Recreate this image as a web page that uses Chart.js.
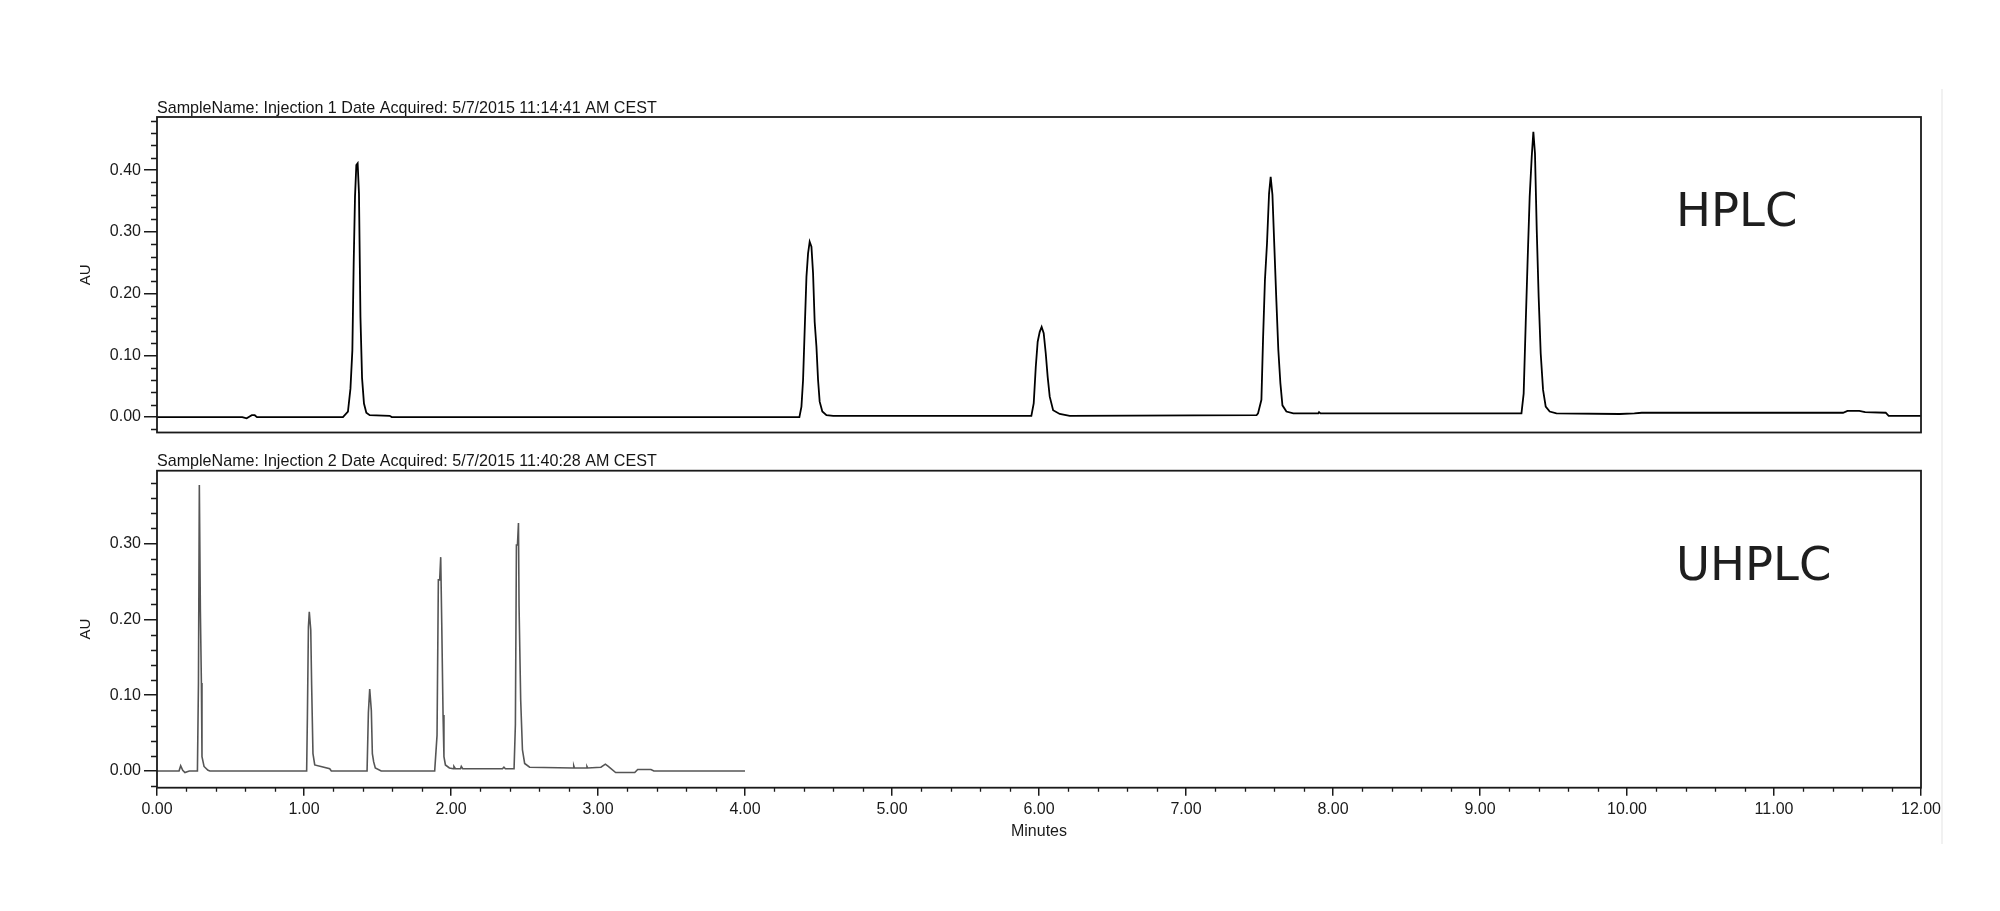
<!DOCTYPE html>
<html>
<head>
<meta charset="utf-8">
<script src="https://cdn.jsdelivr.net/npm/chart.js@4.4.1/dist/chart.umd.min.js"></script>
<style>
  html, body { margin: 0; padding: 0; background: #fff; }
  body { width: 2000px; height: 911px; position: relative; overflow: hidden; }
  canvas { position: absolute; left: 0; }
  #hplc { top: 0; }
  #uhplc { top: 450px; }
  .edge { position: absolute; left: 1941px; top: 89px; width: 2px; height: 755px; background: #f1f1f1; }
</style>
</head>
<body>
<div class="edge"></div>
<canvas id="hplc" width="2000" height="450"></canvas>
<canvas id="uhplc" width="2000" height="461"></canvas>
<script>
/* ==========================
   DATA  (minutes, AU)
========================== */
const hplcTrace = [
  [0, 0], [0.58, 0], [0.61, -0.002], [0.63, 0.001], [0.645, 0.003], [0.665, 0.003], [0.68, 0],
  [1.265, 0], [1.299, 0.009], [1.316, 0.046], [1.329, 0.108], [1.338, 0.249], [1.347, 0.357],
  [1.356, 0.408], [1.365, 0.411], [1.374, 0.362], [1.384, 0.162], [1.395, 0.063], [1.408, 0.022],
  [1.424, 0.007], [1.447, 0.003], [1.583, 0.002], [1.597, 0],
  [4.37, 0], [4.384, 0.017], [4.395, 0.06], [4.406, 0.141], [4.418, 0.227], [4.429, 0.265],
  [4.44, 0.284], [4.452, 0.276], [4.463, 0.233], [4.474, 0.154], [4.486, 0.114], [4.497, 0.06],
  [4.508, 0.025], [4.526, 0.009], [4.554, 0.003], [4.6, 0.002],
  [5.948, 0.002], [5.964, 0.022], [5.978, 0.081], [5.991, 0.122], [6.005, 0.138], [6.018, 0.146],
  [6.032, 0.136], [6.046, 0.103], [6.059, 0.065], [6.073, 0.033], [6.096, 0.011], [6.141, 0.005],
  [6.209, 0.002],
  [7.48, 0.003], [7.49, 0.006], [7.513, 0.028], [7.524, 0.125], [7.537, 0.222], [7.551, 0.281],
  [7.565, 0.362], [7.576, 0.389], [7.588, 0.36], [7.601, 0.276], [7.615, 0.187], [7.628, 0.109],
  [7.642, 0.055], [7.656, 0.019], [7.683, 0.009], [7.73, 0.006], [7.9, 0.006], [7.905, 0.008],
  [7.915, 0.006],
  [9.282, 0.006], [9.297, 0.038], [9.311, 0.152], [9.324, 0.254], [9.338, 0.357], [9.352, 0.422],
  [9.363, 0.462], [9.374, 0.427], [9.386, 0.303], [9.399, 0.195], [9.413, 0.103], [9.429, 0.044],
  [9.447, 0.017], [9.474, 0.009], [9.52, 0.006],
  [9.95, 0.005], [10.05, 0.006], [10.1, 0.007], [11.47, 0.007], [11.5, 0.01], [11.58, 0.01],
  [11.62, 0.008], [11.76, 0.007], [11.78, 0.002], [12, 0.002]
];

const uhplcTrace = [
  [0, 0], [0.15, 0], [0.161, 0.007], [0.175, 0.001], [0.19, -0.002], [0.205, -0.001], [0.22, 0],
  [0.275, 0], [0.282, 0.116], [0.288, 0.377], [0.295, 0.212], [0.302, 0.116], [0.306, 0.019],
  [0.32, 0.006], [0.347, 0.001], [0.36, 0],
  [1.018, 0], [1.023, 0.07], [1.03, 0.19], [1.036, 0.21], [1.046, 0.186], [1.052, 0.113],
  [1.061, 0.023], [1.073, 0.008], [1.175, 0.003], [1.186, 0],
  [1.429, 0], [1.438, 0.077], [1.447, 0.108], [1.458, 0.08], [1.465, 0.023], [1.474, 0.012],
  [1.485, 0.004], [1.525, 0],
  [1.889, 0], [1.905, 0.047], [1.914, 0.252], [1.923, 0.252], [1.93, 0.282], [1.937, 0.195],
  [1.946, 0.074], [1.952, 0.019], [1.962, 0.008], [1.989, 0.004], [2.015, 0.003], [2.02, 0.006],
  [2.03, 0.003], [2.065, 0.003], [2.07, 0.006], [2.08, 0.003], [2.35, 0.003], [2.36, 0.005],
  [2.37, 0.003], [2.429, 0.003],
  [2.438, 0.061], [2.445, 0.298], [2.452, 0.298], [2.459, 0.327], [2.463, 0.217], [2.474, 0.094],
  [2.486, 0.028], [2.501, 0.01], [2.535, 0.005],
  [2.83, 0.004], [2.835, 0.007], [2.84, 0.004], [2.92, 0.004], [2.925, 0.006], [2.93, 0.004],
  [3.02, 0.005], [3.05, 0.009], [3.07, 0.006], [3.12, -0.002], [3.25, -0.002], [3.27, 0.002],
  [3.36, 0.002], [3.38, 0], [4, 0]
];

const panelHeaders = [
  "SampleName: Injection 1 Date Acquired: 5/7/2015 11:14:41 AM CEST",
  "SampleName: Injection 2 Date Acquired: 5/7/2015 11:40:28 AM CEST"
];
const panelTags = ["HPLC", "UHPLC"];
const auRanges = [[-0.025, 0.486], [-0.022, 0.396]];
const minuteRange = [0, 12];

/* ==========================
   FRAME: box, minor ticks, header, tag
========================== */
const framePlugin = {
  id: "frame",
  afterDraw(chart, args, opts) {
    const { ctx, chartArea: a, scales } = chart;
    ctx.save();
    ctx.strokeStyle = "#1a1a1a";
    ctx.lineWidth = 1.8;
    ctx.strokeRect(a.left, a.top, a.right - a.left, a.bottom - a.top);

    // minor ticks every 0.02 AU
    const y = scales.y;
    ctx.lineWidth = 1.3;
    ctx.beginPath();
    for (let i = Math.ceil(y.min / 0.02); i * 0.02 <= y.max; i++) {
      if (i % 5 === 0) continue;
      const py = Math.round(y.getPixelForValue(i * 0.02)) + 0.5;
      ctx.moveTo(a.left - 6, py);
      ctx.lineTo(a.left, py);
    }
    if (opts.minorX) {
      const x = scales.x;
      for (let i = 1; i * 0.2 < x.max; i++) {
        if (i % 5 === 0) continue;
        const px = Math.round(x.getPixelForValue(i * 0.2)) + 0.5;
        ctx.moveTo(px, a.bottom);
        ctx.lineTo(px, a.bottom + 4);
      }
    }
    ctx.stroke();

    ctx.fillStyle = "#151515";
    ctx.font = '16.1px "Liberation Sans", Arial, sans-serif';
    ctx.textBaseline = "alphabetic";
    ctx.textAlign = "left";
    ctx.fillText(opts.header, a.left, a.top - 4.5);

    ctx.fillStyle = "#1e1e1e";
    ctx.font = '46.5px "DejaVu Sans", sans-serif';
    ctx.fillText(opts.tag, a.left + 1519, a.top + 109);
    ctx.restore();
  }
};

function gerarPainel(canvasId, trace, idx, opts) {
  const [yMin, yMax] = auRanges[idx];
  return new Chart(document.getElementById(canvasId), {
    type: "line",
    data: {
      datasets: [
        {
          data: trace,
          borderColor: opts.lineColor,
          borderWidth: opts.lineWidth,
          pointRadius: 0,
          tension: 0,
          fill: false
        }
      ]
    },
    options: {
      responsive: false,
      animation: false,
      events: [],
      layout: { padding: opts.padding },
      plugins: {
        legend: { display: false },
        tooltip: { enabled: false },
        frame: { header: panelHeaders[idx], tag: panelTags[idx], minorX: opts.showX }
      },
      scales: {
        x: {
          type: "linear",
          display: opts.showX,
          min: minuteRange[0],
          max: minuteRange[1],
          afterFit: s => { s.height = opts.showX ? 80 : 0; },
          ticks: {
            stepSize: 1,
            padding: 4,
            maxRotation: 0,
            color: "#1a1a1a",
            font: { family: '"Liberation Sans", Arial, sans-serif', size: 16 },
            callback: v => Number(v).toFixed(2)
          },
          grid: {
            drawOnChartArea: false,
            drawTicks: true,
            tickLength: 8,
            tickColor: "#1a1a1a",
            lineWidth: 1.5
          },
          border: { display: false },
          title: {
            display: true,
            text: "Minutes",
            color: "#1a1a1a",
            font: { family: '"Liberation Sans", Arial, sans-serif', size: 16 },
            padding: { top: 0, bottom: 26.5 }
          }
        },
        y: {
          min: yMin,
          max: yMax,
          afterFit: s => { s.width = 100; },
          ticks: {
            stepSize: 0.1,
            includeBounds: false,
            padding: 3,
            color: "#1a1a1a",
            font: { family: '"Liberation Sans", Arial, sans-serif', size: 16 },
            callback: v => Number(v).toFixed(2)
          },
          grid: {
            drawOnChartArea: false,
            drawTicks: true,
            tickLength: 13,
            tickColor: "#1a1a1a",
            lineWidth: 1.5
          },
          border: { display: false },
          title: {
            display: true,
            text: "AU",
            color: "#1a1a1a",
            font: { family: '"Liberation Sans", Arial, sans-serif', size: 15 },
            padding: { top: 20, bottom: 0 }
          }
        }
      }
    },
    plugins: [framePlugin]
  });
}

gerarPainel("hplc", hplcTrace, 0, {
  lineColor: "#000000",
  lineWidth: 1.8,
  showX: false,
  padding: { top: 117, right: 79, bottom: 17.5, left: 57 }
});

gerarPainel("uhplc", uhplcTrace, 1, {
  lineColor: "#555555",
  lineWidth: 1.6,
  showX: true,
  padding: { top: 20.7, right: 79, bottom: 43.3, left: 57 }
});
</script>
</body>
</html>
